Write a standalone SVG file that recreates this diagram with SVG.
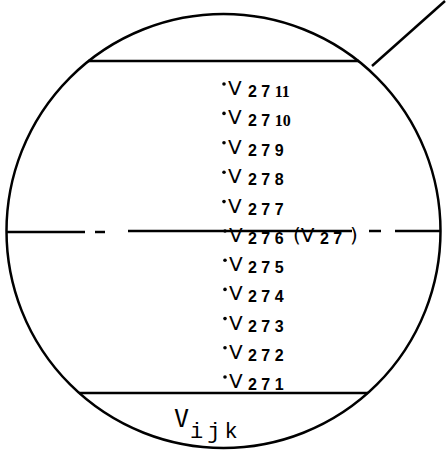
<svg xmlns="http://www.w3.org/2000/svg" width="446" height="452" viewBox="0 0 446 452">
<style>
.ln{stroke:#000;stroke-width:2.5;fill:none}
.v{font-family:"DejaVu Sans",sans-serif;font-size:20px;fill:#000}
.s{font-family:"Liberation Sans",sans-serif;font-size:16px;font-weight:bold;fill:#000}
.sf{font-family:"Liberation Serif",serif;font-size:16px;font-weight:bold}
.d{fill:#000}
</style>
<rect width="446" height="452" fill="#fff"/>
<g id="frame">
<circle class="ln" cx="223.5" cy="231" r="217"/>
<line class="ln" x1="88" y1="61" x2="359" y2="61"/>
<line class="ln" x1="79" y1="393" x2="368" y2="393"/>
<line class="ln" x1="372" y1="66" x2="445" y2="1" stroke-width="2"/>
</g>
<g id="centerline" class="ln" stroke-width="2">
<line x1="7" y1="232" x2="85" y2="232"/>
<line x1="95" y1="232" x2="105" y2="232"/>
<line x1="128" y1="231" x2="352" y2="231"/>
<line x1="369" y1="231" x2="381" y2="231"/>
<line x1="395" y1="231" x2="440" y2="231"/>
</g>
<g id="labels">
<g id="v2711"><circle class="d" cx="224" cy="84" r="1.8"/><text class="v" x="228" y="95">V</text><text class="s" x="248" y="97">2 7 <tspan class="sf">11</tspan></text></g>
<g id="v2710"><circle class="d" cx="224" cy="113.4" r="1.8"/><text class="v" x="228" y="124.4">V</text><text class="s" x="248" y="126.4">2 7 <tspan class="sf">10</tspan></text></g>
<g id="v279"><circle class="d" cx="224" cy="142.8" r="1.8"/><text class="v" x="228" y="153.8">V</text><text class="s" x="248" y="155.8">2 7 9</text></g>
<g id="v278"><circle class="d" cx="224" cy="172.2" r="1.8"/><text class="v" x="228" y="183.2">V</text><text class="s" x="248" y="185.2">2 7 8</text></g>
<g id="v277"><circle class="d" cx="224" cy="201.6" r="1.8"/><text class="v" x="228" y="212.6">V</text><text class="s" x="248" y="214.6">2 7 7</text></g>
<g id="v276"><circle class="d" cx="225" cy="231" r="1.8"/><text class="v" x="229" y="242">V</text><text class="s" x="248" y="244">2 7 6</text><text class="v" x="293" y="242">(V</text><text class="s" x="320" y="244">2 7</text><text class="v" x="350" y="242">)</text></g>
<g id="v275"><circle class="d" cx="225" cy="260.2" r="1.8"/><text class="v" x="229" y="271.2">V</text><text class="s" x="248" y="273.2">2 7 5</text></g>
<g id="v274"><circle class="d" cx="225" cy="289.4" r="1.8"/><text class="v" x="229" y="300.4">V</text><text class="s" x="248" y="302.4">2 7 4</text></g>
<g id="v273"><circle class="d" cx="225" cy="318.6" r="1.8"/><text class="v" x="229" y="329.6">V</text><text class="s" x="248" y="331.6">2 7 3</text></g>
<g id="v272"><circle class="d" cx="225" cy="347.8" r="1.8"/><text class="v" x="229" y="358.8">V</text><text class="s" x="248" y="360.8">2 7 2</text></g>
<g id="v271"><circle class="d" cx="225" cy="377" r="1.8"/><text class="v" x="229" y="388">V</text><text class="s" x="248" y="390">2 7 1</text></g>
<g id="vijk"><text x="174" y="427" font-family="DejaVu Sans Mono,monospace" font-size="25">V</text><text x="190" y="438" font-family="Liberation Mono,monospace" font-size="22" letter-spacing="4">ijk</text></g>
</g>
</svg>
